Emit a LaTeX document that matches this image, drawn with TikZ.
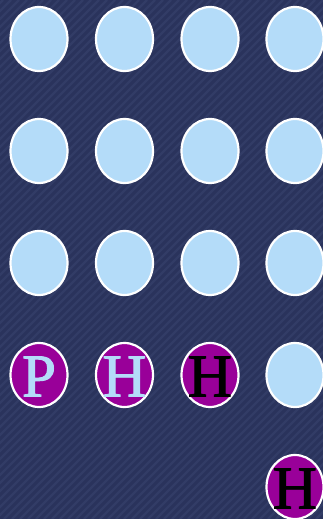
\documentclass[tikz,border=0pt]{standalone}
\usepackage{fontspec}
\setmainfont{Liberation Serif}
\newfontfamily\letterfont[FakeBold=1.6]{Liberation Serif}
\usetikzlibrary{shapes.geometric}
\definecolor{bgnavy}{HTML}{2A335C}
\definecolor{bgstripe}{HTML}{323C66}
\definecolor{cellblue}{HTML}{B4DCF9}
\definecolor{cellpurple}{HTML}{990099}
\tikzset{
  cell/.style={ellipse, draw=white, line width=2.2pt, fill=cellblue,
    minimum width=57pt, minimum height=64pt, inner sep=0pt},
  marked/.style={cell, fill=cellpurple},
  letter/.style={inner sep=0pt, yshift=-1.5pt,
    font=\letterfont\fontsize{61}{61}\selectfont}
}
\begin{document}
\begin{tikzpicture}[x=1pt,y=-1pt]
\fill[bgnavy] (0,0) rectangle (323,519);
\begin{scope}
\clip (0,0) rectangle (323,519);
\foreach \i in {-540,-532,...,340}
  \draw[bgstripe, line width=2.4pt] (\i,519) -- (\i+519,0);
\end{scope}
\useasboundingbox (0,0) rectangle (323,519);
\foreach \r/\y in {1/39,2/151,3/263}
  \foreach \c/\x in {1/39,2/124.5,3/210,4/295}
    \node[cell] (c\r\c) at (\x,\y) {};
\node[marked] (c41) at (39,375) {};
\node[marked] (c42) at (124.5,375) {};
\node[marked] (c43) at (210,375) {};
\node[cell] (c44) at (295,375) {};
\node[marked] (c54) at (295,487) {};
\node[letter, text=cellblue] (t41) at (c41.center) {P};
\node[letter, text=cellblue] (t42) at (c42.center) {H};
\node[letter, text=black] (t43) at (c43.center) {H};
\node[letter, text=black] (t54) at (c54.center) {H};
\end{tikzpicture}
\end{document}
